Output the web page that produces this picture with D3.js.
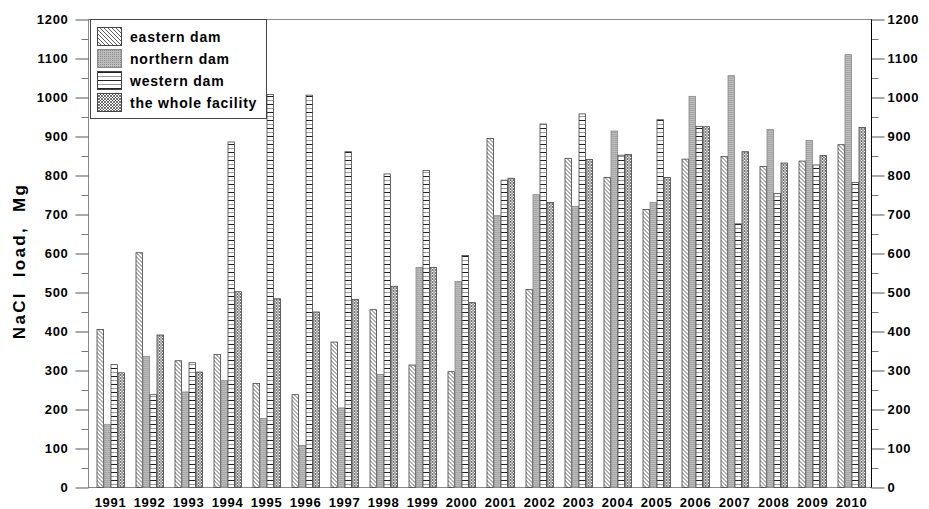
<!DOCTYPE html>
<html>
<head>
<meta charset="utf-8">
<script src="https://cdnjs.cloudflare.com/ajax/libs/d3/7.8.5/d3.min.js"></script>
<style>
body { margin:0; background:#fff; }
text { font-family: "Liberation Sans", Arial, sans-serif; font-weight:bold; }
</style>
</head>
<body>
<div id="chart"></div>
<script>
var years = ["1991","1992","1993","1994","1995","1996","1997","1998","1999","2000",
             "2001","2002","2003","2004","2005","2006","2007","2008","2009","2010"];
var seriesNames = ["eastern dam","northern dam","western dam","the whole facility"];
var eastern  = [405,602,325,341,267,238,373,456,314,297,895,508,844,795,713,842,849,823,837,879];
var northern = [161,336,245,274,177,108,204,290,564,528,697,751,721,914,731,1003,1056,918,890,1110];
var western  = [315,238,320,886,1008,1006,861,804,813,595,788,932,958,852,943,926,676,754,827,782];
var whole    = [294,391,296,502,484,450,482,516,564,474,793,731,841,854,795,925,861,832,851,923];
var yTicks = [0,100,200,300,400,500,600,700,800,900,1000,1100,1200];

var series = [eastern, northern, western, whole];
var patIds = ["pEast","pNorth","pWest","pWhole"];

var svg = d3.select("#chart").append("svg").attr("width",929).attr("height",509);

//hatch patterns
var defs = svg.append("defs");
var p1 = defs.append("pattern").attr("id","pEast").attr("patternUnits","userSpaceOnUse")
	.attr("width",4).attr("height",4);
p1.append("rect").attr("width",4).attr("height",4).attr("fill","#fff");
p1.append("path").attr("d","M-1,-1L5,5M3,-1L5,1M-1,3L1,5").attr("stroke","#333").attr("stroke-width",0.8);

var p2 = defs.append("pattern").attr("id","pNorth").attr("patternUnits","userSpaceOnUse")
	.attr("width",2).attr("height",2);
p2.append("rect").attr("width",2).attr("height",2).attr("fill","#bdbdbd");
p2.append("rect").attr("width",1).attr("height",1).attr("fill","#8e8e8e");

var p3 = defs.append("pattern").attr("id","pWest").attr("patternUnits","userSpaceOnUse")
	.attr("width",8).attr("height",8);
p3.append("rect").attr("width",8).attr("height",8).attr("fill","#fff");
p3.append("line").attr("x1",0).attr("x2",8).attr("y1",0.5).attr("y2",0.5).attr("stroke","#222");
p3.append("line").attr("x1",0).attr("x2",8).attr("y1",4.5).attr("y2",4.5).attr("stroke","#999");

var p4 = defs.append("pattern").attr("id","pWhole").attr("patternUnits","userSpaceOnUse")
	.attr("width",3).attr("height",3);
p4.append("rect").attr("width",3).attr("height",3).attr("fill","#fff");
p4.append("path").attr("d","M0,0L3,3M3,0L0,3").attr("stroke","#333").attr("stroke-width",0.7);

var x = d3.scaleBand().domain(years).range([91,871]);
var x1 = d3.scaleBand().domain(d3.range(4)).range([0,28]);
var y = d3.scaleLinear().domain([0,1200]).range([487.5,19.5]);

//frame
svg.append("rect").attr("x",88.5).attr("y",19.5).attr("width",871.5-88.5).attr("height",468)
	.attr("fill","none").attr("stroke","#888");

//bars
var groups = svg.selectAll(".yr").data(years).enter().append("g")
	.attr("transform",d=>"translate("+(x(d)+x.bandwidth()/2-14)+",0)");
groups.selectAll("rect").data((d,i)=>series.map((s,k)=>({k:k,v:s[i]}))).enter().append("rect")
	.attr("x",d=>x1(d.k)+0.5)
	.attr("width",x1.bandwidth()-0.5)
	.attr("y",d=>y(d.v))
	.attr("height",d=>y(0)-y(d.v))
	.attr("fill",d=>"url(#"+patIds[d.k]+")")
	.attr("stroke",d=>d.k==1? "#888":"#444")
	.attr("stroke-width",0.8);

//axes
var minor = d3.range(50,1200,100);
function drawAxis(axisFn, xpos, pad){
	var a = svg.append("g").attr("transform","translate("+xpos+",0)")
		.call(axisFn(y).tickValues(yTicks).tickSize(13).tickPadding(pad).tickFormat(d3.format("d")));
	a.select(".domain").remove();
	a.selectAll("line").attr("stroke","#555");
	a.selectAll("text").style("font-size","13px").style("letter-spacing","0.7px").attr("fill","#000");
	var m = svg.append("g").attr("transform","translate("+xpos+",0)")
		.call(axisFn(y).tickValues(minor).tickSize(7).tickFormat(""));
	m.select(".domain").remove();
	m.selectAll("line").attr("stroke","#777");
}
drawAxis(d3.axisLeft, 88.5, 7);
drawAxis(d3.axisRight, 871.5, 3);
svg.append("line").attr("x1",871.5).attr("x2",871.5).attr("y1",19.5).attr("y2",487.5).attr("stroke","#000");

var xa = svg.append("g").attr("transform","translate(0,487.5)")
	.call(d3.axisBottom(x).tickSize(0).tickPadding(10));
xa.select(".domain").remove();
xa.selectAll("text").style("font-size","13px").style("letter-spacing","0.7px").attr("fill","#000");

svg.append("text").attr("transform","translate(25,261) rotate(-90)")
	.attr("text-anchor","middle").style("font-size","17px").style("letter-spacing","2.3px")
	.style("white-space","pre").text("NaCl  load,  Mg");

//legend
var lg = svg.append("g");
lg.append("rect").attr("x",90.5).attr("y",19.5).attr("width",176).attr("height",99)
	.attr("fill","#fff").attr("stroke","#444");
seriesNames.forEach(function(n,i){
	lg.append("rect").attr("x",97.5).attr("y",27.5+i*22).attr("width",24).attr("height",18)
		.attr("fill","url(#"+patIds[i]+")").attr("stroke",i==1? "#888":"#444");
	lg.append("text").attr("x",130).attr("y",42+i*22).style("font-size","14px")
		.style("letter-spacing","0.8px").text(n);
});
</script>
</body>
</html>
